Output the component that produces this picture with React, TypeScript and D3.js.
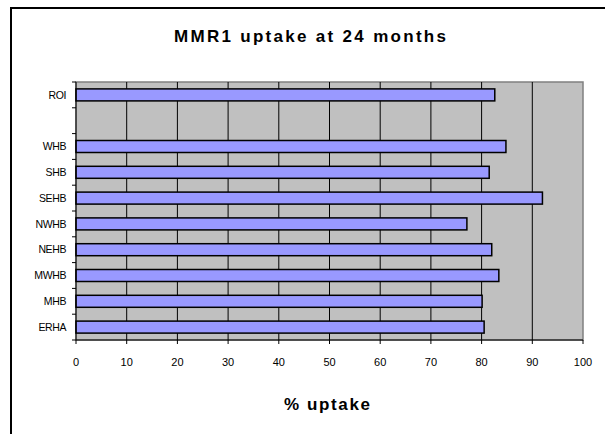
import React from 'react';
import * as d3 from 'd3';

// categories listed top to bottom; the blank slot is a gap in the original chart
const categories = ['ROI', ' ', 'WHB', 'SHB', 'SEHB', 'NWHB', 'NEHB', 'MWHB', 'MHB', 'ERHA'];
const uptake: (number | null)[] = [82.6, null, 84.8, 81.5, 92.0, 77.1, 82.0, 83.4, 80.1, 80.5];
const xTicks = [0, 10, 20, 30, 40, 50, 60, 70, 80, 90, 100];

const title = 'MMR1 uptake at 24 months';
const xTitle = '% uptake';

const width = 605;
const height = 434;
const plot = { left: 76, right: 583, top: 82, bottom: 340 };
const font = '"Liberation Sans", Arial, sans-serif';

const App: React.FC = () => {
  const x = d3.scaleLinear().domain([0, 100]).range([plot.left, plot.right]);
  const gap = 0.535;
  const y = d3
    .scaleBand<string>()
    .domain(categories)
    .range([plot.top, plot.bottom])
    .paddingInner(gap)
    .paddingOuter(gap / 2);
  const step = y.step();
  const boundaries = d3.range(categories.length + 1).map((i) => plot.top + i * step);

  return (
    <div style={{ position: 'absolute', left: 0, top: 0 }}>
      <svg width={width} height={height} style={{ display: 'block', background: '#fff' }}>
        {/* outer chart frame, cut off at right and bottom */}
        <rect x={11} y={8} width={620} height={460} fill="#fff" stroke="#000" strokeWidth={2} />

        <text
          x={310}
          y={42}
          textAnchor="middle"
          fontFamily={font}
          fontWeight="bold"
          fontSize={17}
          textLength={272}
          lengthAdjust="spacing"
        >
          {title}
        </text>

        {/* plot area */}
        <rect
          x={plot.left}
          y={plot.top}
          width={plot.right - plot.left}
          height={plot.bottom - plot.top}
          fill="#c0c0c0"
          stroke="#808080"
          strokeWidth={1.5}
        />

        {/* vertical gridlines */}
        {xTicks.slice(1, -1).map((t) => (
          <line key={t} x1={x(t)} x2={x(t)} y1={plot.top} y2={plot.bottom} stroke="#000" strokeWidth={1} />
        ))}

        {/* bars */}
        {categories.map((c, i) =>
          uptake[i] == null ? null : (
            <rect
              key={c}
              x={x(0)}
              y={y(c)}
              width={x(uptake[i] as number) - x(0)}
              height={y.bandwidth()}
              fill="#9999ff"
              stroke="#000"
              strokeWidth={1.5}
            />
          )
        )}

        {/* axes */}
        <line x1={plot.left} x2={plot.left} y1={plot.top} y2={plot.bottom} stroke="#000" strokeWidth={1} />
        <line x1={plot.left} x2={plot.right} y1={plot.bottom} y2={plot.bottom} stroke="#000" strokeWidth={1} />
        {boundaries.map((b, i) => (
          <line key={i} x1={plot.left - 4} x2={plot.left} y1={b} y2={b} stroke="#000" strokeWidth={1} />
        ))}
        {xTicks.map((t) => (
          <g key={t}>
            <line x1={x(t)} x2={x(t)} y1={plot.bottom} y2={plot.bottom + 4} stroke="#000" strokeWidth={1} />
            <text x={x(t)} y={365.5} textAnchor="middle" fontFamily={font} fontSize={11} fill="#000">
              {t}
            </text>
          </g>
        ))}
        {categories.map((c) => (
          <text
            key={c}
            x={66}
            y={(y(c) as number) + y.bandwidth() / 2}
            dy="0.35em"
            textAnchor="end"
            fontFamily={font}
            fontSize={10.5}
            letterSpacing={-0.4}
            fill="#000"
          >
            {c.trim()}
          </text>
        ))}

        <text
          x={327}
          y={410}
          textAnchor="middle"
          fontFamily={font}
          fontWeight="bold"
          fontSize={17}
          textLength={86}
          lengthAdjust="spacing"
        >
          {xTitle}
        </text>
      </svg>
    </div>
  );
};

export default App;
